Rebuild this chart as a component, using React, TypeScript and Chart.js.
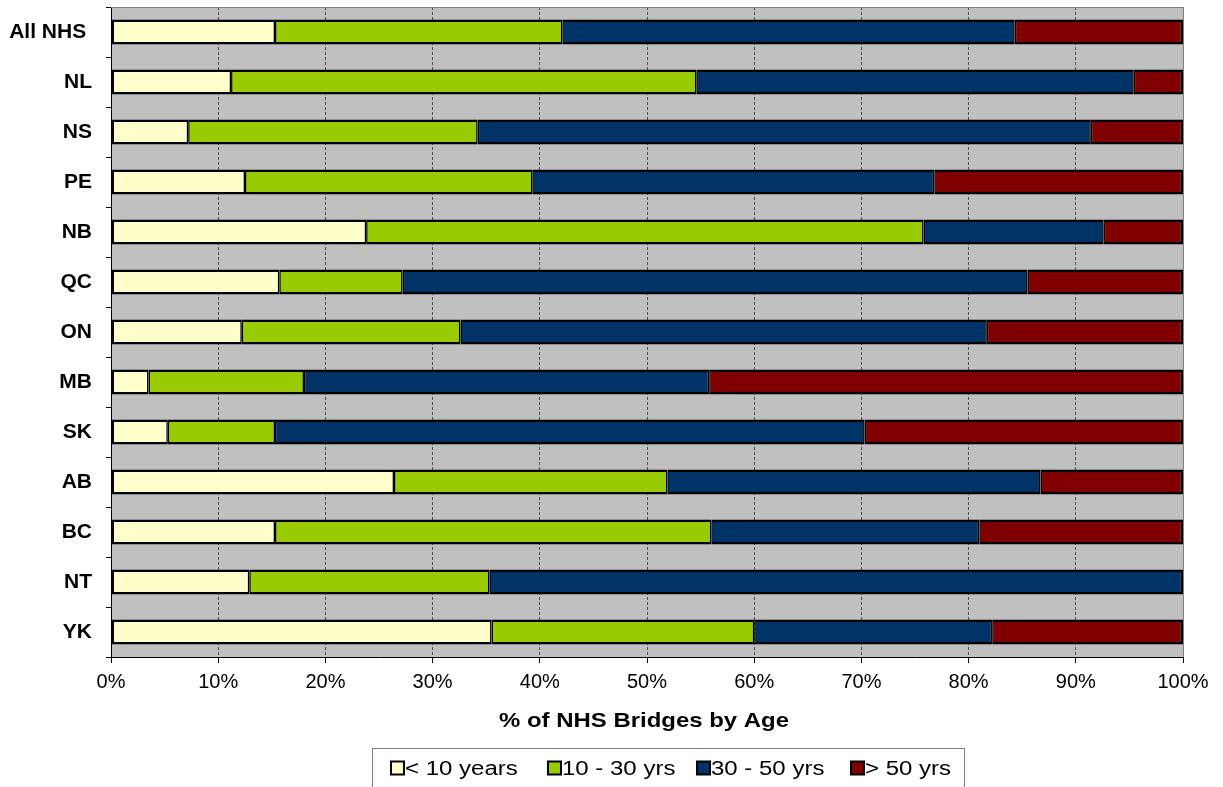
import React, { useEffect, useRef } from "react";
import { Chart, registerables } from "chart.js";

Chart.register(...registerables);

// Provinces / territories, top to bottom
const categories = [
  "All NHS ", "NL", "NS", "PE", "NB", "QC", "ON", "MB", "SK", "AB", "BC", "NT", "YK",
];

// Share of NHS bridges (%) in each age band
const under10 = [15.3, 11.2, 7.2, 12.5, 23.8, 15.7, 12.2, 3.5, 5.3, 26.4, 15.3, 12.9, 35.5];
const from10to30 = [26.8, 43.4, 27.0, 26.8, 52.0, 11.5, 20.4, 14.5, 10.0, 25.5, 40.7, 22.4, 24.5];
const from30to50 = [42.2, 40.8, 57.2, 37.5, 16.8, 58.3, 49.1, 37.8, 55.0, 34.8, 25.0, 64.7, 22.2];
const over50 = [15.7, 4.6, 8.6, 23.2, 7.4, 14.5, 18.3, 44.2, 29.7, 13.3, 19.0, 0, 17.8];

const seriesNames = ["< 10 years", "10 - 30 yrs", "30 - 50 yrs", "> 50 yrs"];
const seriesColors = ["#FFFFCC", "#99CC00", "#003366", "#800000"];

const xTicks = [0, 10, 20, 30, 40, 50, 60, 70, 80, 90, 100];
const axisTitle = "% of NHS Bridges by Age";

const FONT = "'Liberation Sans', Arial, sans-serif";

const allSeries = [under10, from10to30, from30to50, over50];

// Legend entry positions (left edge of each swatch)
const legendItemX = [391, 548, 697, 851];

// Segment borders: half width on shared edges so adjacent segments form one divider
const segmentBorder = (ctx: any) => {
  const d = ctx.datasetIndex;
  const i = ctx.dataIndex;
  let last = true;
  for (let k = d + 1; k < allSeries.length; k++) {
    if (allSeries[k][i] > 0) last = false;
  }
  return { top: 2.5, bottom: 2.5, left: d === 0 ? 2.5 : 1.5, right: last ? 2.5 : 1.5 };
};

const plotBackground = {
  id: "plotBackground",
  beforeDraw(chart: any) {
    const { ctx, chartArea: a } = chart;
    ctx.save();
    ctx.fillStyle = "#C0C0C0";
    ctx.fillRect(a.left, a.top, a.right - a.left, a.bottom - a.top);
    ctx.restore();
  },
  beforeDatasetsDraw(chart: any) {
    const { ctx, chartArea: a } = chart;
    ctx.save();
    ctx.strokeStyle = "#808080";
    ctx.lineWidth = 1;
    ctx.beginPath();
    ctx.moveTo(a.left, a.top + 0.5);
    ctx.lineTo(a.right + 0.5, a.top + 0.5);
    ctx.lineTo(a.right + 0.5, a.bottom);
    ctx.stroke();
    ctx.restore();
  },
};

// Draws text stretched horizontally by sx, anchored at (x, y)
const drawStretched = (ctx: any, text: string, x: number, y: number, sx: number) => {
  ctx.save();
  ctx.translate(x, y);
  ctx.scale(sx, 1);
  ctx.fillText(text, 0, 0);
  ctx.restore();
};

const titleAndLegend = {
  id: "titleAndLegend",
  afterDraw(chart: any) {
    const { ctx } = chart;
    ctx.save();
    // axis title
    ctx.fillStyle = "#000";
    ctx.font = `bold 21px ${FONT}`;
    ctx.textAlign = "center";
    ctx.textBaseline = "middle";
    drawStretched(ctx, axisTitle, 644, 721, 1.14);

    // legend frame
    const boxX = 372.5;
    const boxY = 748.5;
    const boxW = 592;
    const boxH = 40;
    ctx.fillStyle = "#fff";
    ctx.fillRect(boxX, boxY, boxW, boxH);
    ctx.strokeStyle = "#808080";
    ctx.lineWidth = 1;
    ctx.strokeRect(boxX, boxY, boxW, boxH);

    // legend entries
    ctx.font = `20px ${FONT}`;
    ctx.textAlign = "left";
    const cy = 768;
    chart.data.datasets.forEach((ds: any, k: number) => {
      const x = legendItemX[k];
      ctx.fillStyle = ds.backgroundColor;
      ctx.fillRect(x, cy - 6.5, 13, 13);
      ctx.strokeStyle = "#000";
      ctx.lineWidth = 2;
      ctx.strokeRect(x, cy - 6.5, 13, 13);
      ctx.fillStyle = "#000";
      drawStretched(ctx, ds.label, x + 14, cy + 1, 1.2);
    });
    ctx.restore();
  },
};

export default function App() {
  const canvasRef = useRef<HTMLCanvasElement>(null);

  useEffect(() => {
    document.body.style.margin = "0";
    const canvas = canvasRef.current;
    if (!canvas) return;
    const chart = new Chart(canvas, {
      type: "bar",
      data: {
        labels: categories,
        datasets: allSeries.map((values, k) => ({
          label: seriesNames[k],
          data: values,
          backgroundColor: seriesColors[k],
          borderColor: "#000000",
          borderWidth: segmentBorder,
          borderSkipped: false,
          inflateAmount: 0,
          barPercentage: 0.5,
          categoryPercentage: 1,
        })),
      },
      options: {
        indexAxis: "y",
        responsive: false,
        animation: false,
        devicePixelRatio: 1,
        layout: { padding: { top: 7, right: 40, bottom: 90, left: 0 } },
        plugins: {
          legend: { display: false },
          tooltip: { enabled: false },
        },
        scales: {
          x: {
            type: "linear",
            stacked: true,
            min: 0,
            max: 100,
            afterBuildTicks: (scale: any) => {
              scale.ticks = xTicks.map((v) => ({ value: v }));
            },
            afterFit: (scale: any) => {
              scale.height = 40;
              scale.paddingLeft = 0;
              scale.paddingRight = 0;
            },
            ticks: {
              callback: (v: any) => `${v}%`,
              color: "#000",
              font: { family: FONT, size: 20 },
              padding: 7,
              maxRotation: 0,
            },
            grid: {
              color: "#505050",
              lineWidth: 1,
              tickColor: "#000",
              tickLength: 6,
            },
            border: { display: true, color: "#000", width: 1, dash: [3, 2] },
          },
          y: {
            stacked: true,
            afterFit: (scale: any) => {
              scale.width = 111;
              scale.paddingTop = 0;
              scale.paddingBottom = 0;
            },
            ticks: {
              color: "#000",
              font: { family: FONT, size: 21, weight: "bold" },
              padding: 14,
            },
            grid: {
              offset: true,
              drawOnChartArea: false,
              color: "#000",
              tickLength: 5,
            },
            border: { display: true, color: "#000", width: 1 },
          },
        },
      },
      plugins: [plotBackground, titleAndLegend],
    });
    return () => chart.destroy();
  }, []);

  return <canvas ref={canvasRef} width={1223} height={787} style={{ display: "block" }} />;
}
